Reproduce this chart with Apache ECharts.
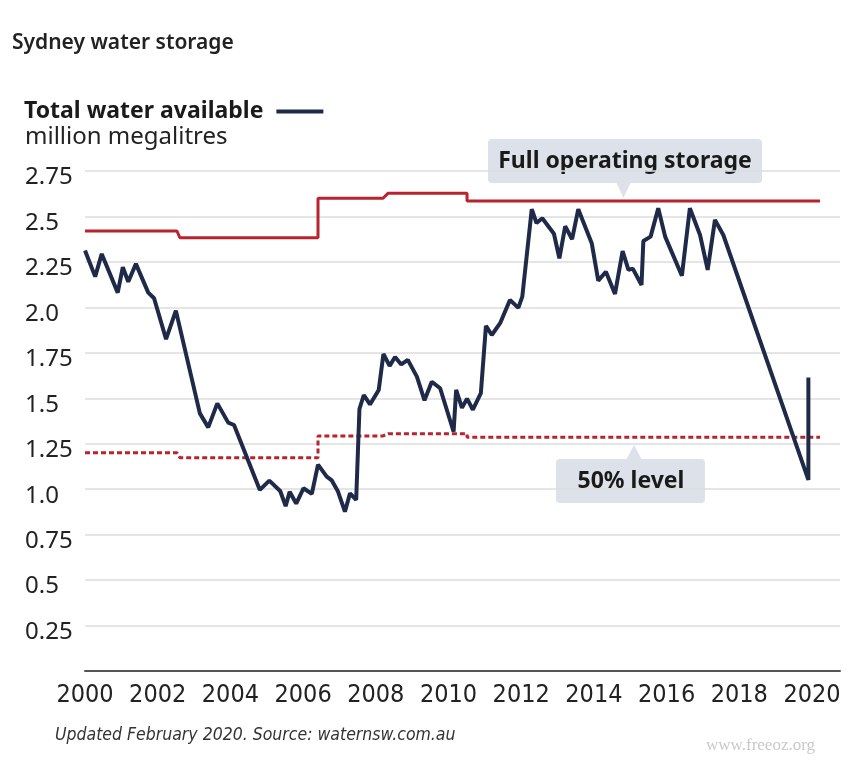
<!DOCTYPE html>
<html>
<head>
<meta charset="utf-8">
<style>
html,body{margin:0;padding:0;background:#fff;}
#chart{width:859px;height:770px;}
</style>
<script src="https://cdn.jsdelivr.net/npm/echarts@6/dist/echarts.min.js"></script>
</head>
<body>
<div id="chart"></div>
<script>
// Total water available (million ML): [year, value]
const waterYears = [2000.00,2000.28,2000.46,2000.90,2001.04,2001.19,2001.40,2001.74,2001.90,2002.23,2002.50,2003.16,2003.39,2003.64,2003.94,2004.10,2004.81,2005.07,2005.37,2005.52,2005.63,2005.81,2006.01,2006.24,2006.41,2006.65,2006.79,2006.96,2007.15,2007.29,2007.46,2007.55,2007.67,2007.84,2008.08,2008.21,2008.38,2008.53,2008.70,2008.88,2009.13,2009.34,2009.54,2009.77,2010.14,2010.21,2010.37,2010.51,2010.67,2010.89,2011.03,2011.19,2011.42,2011.69,2011.92,2012.03,2012.29,2012.42,2012.58,2012.90,2013.05,2013.21,2013.40,2013.57,2013.94,2014.12,2014.33,2014.58,2014.79,2014.95,2015.07,2015.31,2015.36,2015.56,2015.77,2015.96,2016.42,2016.64,2016.92,2017.13,2017.33,2017.56,2019.90,2019.90];
const waterValues = [2.313,2.169,2.294,2.081,2.221,2.141,2.239,2.081,2.050,1.825,1.982,1.417,1.340,1.472,1.366,1.353,0.996,1.047,0.990,0.907,0.986,0.921,1.005,0.974,1.135,1.069,1.048,0.987,0.876,0.977,0.941,1.441,1.518,1.466,1.546,1.744,1.678,1.727,1.686,1.711,1.619,1.489,1.591,1.555,1.316,1.546,1.447,1.498,1.437,1.528,1.898,1.848,1.913,2.041,1.997,2.059,2.540,2.464,2.490,2.405,2.270,2.446,2.375,2.540,2.353,2.147,2.196,2.074,2.309,2.206,2.213,2.123,2.365,2.389,2.545,2.389,2.174,2.545,2.398,2.206,2.481,2.398,1.051,1.614];

// Full operating storage (step line)
const fullYears = [2000.0,2002.53,2002.61,2006.41,2006.41,2008.20,2008.34,2010.51,2010.51,2020.22];
const fullValues = [2.42,2.42,2.383,2.383,2.60,2.60,2.628,2.628,2.585,2.585];

// 50% level (step line)
const halfYears = [2000.0,2002.53,2002.61,2006.41,2006.41,2008.20,2008.34,2010.51,2010.51,2020.22];
const halfValues = [1.20,1.20,1.173,1.173,1.293,1.293,1.305,1.305,1.285,1.285];

const xTicks = [2000,2002,2004,2006,2008,2010,2012,2014,2016,2018,2020];

const pairs = (xs, ys) => xs.map((x, i) => [x, ys[i]]);

const chart = echarts.init(document.getElementById('chart'));
const redC = '#b8232f';
const navy = '#1f2a48';
const boxC = '#dde2ea';
const boldFont = 'Noto Sans';
const narrow = 'DejaVu Sans Condensed, DejaVu Sans, sans-serif';

chart.setOption({
  backgroundColor: '#ffffff',
  animation: false,
  title: [
    { text: 'Sydney water storage', left: 7, top: 28,
      textStyle: { fontFamily: 'Noto Sans', fontWeight: 600, fontSize: 21, color: '#222' } },
    { text: 'million megalitres', left: 20, top: 120,
      textStyle: { fontFamily: 'Noto Sans', fontWeight: 'normal', fontSize: 24, color: '#222' } },
    { text: 'Updated February 2020. Source: waternsw.com.au', left: 50, top: 721,
      textStyle: { fontFamily: narrow, fontStyle: 'italic', fontWeight: 'normal', fontSize: 17.5, color: '#333' } },
    { text: 'www.freeoz.org', left: 701, top: 732,
      textStyle: { fontFamily: 'Liberation Serif', fontWeight: 'normal', fontSize: 17, color: '#c9c9c9' } }
  ],
  legend: {
    left: 19, top: 95,
    align: 'right',
    itemWidth: 47, itemHeight: 4,
    selectedMode: false,
    data: [{ name: 'Total water available', icon: 'rect' }],
    textStyle: { fontFamily: boldFont, fontWeight: 'bold', fontSize: 23, color: '#1a1a1a', padding: [0, 8, 0, 0] }
  },
  grid: { left: 85, right: 19, top: 171, bottom: 99 },
  xAxis: {
    type: 'value', min: 2000, max: 2020.77, interval: 2,
    axisLine: { show: true, lineStyle: { color: '#555', width: 2 } },
    axisTick: { show: false },
    splitLine: { show: false },
    axisLabel: {
      margin: 12,
      showMaxLabel: false,
      fontFamily: narrow,
      fontSize: 25, color: '#222',
      formatter: v => (xTicks.indexOf(v) < 0 ? '' : String(v))
    }
  },
  yAxis: {
    type: 'value', min: 0, max: 2.75, interval: 0.25,
    axisLine: { show: false },
    axisTick: { show: false },
    splitLine: { show: true, lineStyle: { color: '#dcdcdc', width: 1.5 } },
    axisLabel: {
      align: 'left', margin: 60,
      verticalAlign: 'top', lineHeight: 13,
      fontFamily: 'Noto Sans', fontSize: 24, color: '#222',
      formatter: v => {
        if (v === 0) return '';
        let s = v.toFixed(2);
        if (s.endsWith('0')) s = s.slice(0, -1);
        return s;
      }
    }
  },
  series: [
    {
      name: 'Full operating storage', type: 'line', symbol: 'none',
      data: pairs(fullYears, fullValues),
      lineStyle: { color: redC, width: 3 }, itemStyle: { color: redC }, z: 2
    },
    {
      name: '50% level', type: 'line', symbol: 'none',
      data: pairs(halfYears, halfValues),
      lineStyle: { color: redC, width: 3, type: [5, 3] }, itemStyle: { color: redC }, z: 2
    },
    {
      name: 'Total water available', type: 'line', symbol: 'none',
      data: pairs(waterYears, waterValues),
      lineStyle: { color: navy, width: 4 }, itemStyle: { color: navy }, z: 3
    }
  ],
  graphic: [
    { type: 'rect', shape: { x: 488, y: 139, width: 274, height: 44, r: 4 }, style: { fill: boxC } },
    { type: 'polygon', shape: { points: [[616, 182], [631, 182], [623.5, 198]] }, style: { fill: boxC } },
    { type: 'text', x: 625, y: 161, style: { text: 'Full operating storage', fontFamily: boldFont, fontWeight: 'bold', fontSize: 23, fill: '#1a1a1a', align: 'center', verticalAlign: 'middle' } },
    { type: 'rect', shape: { x: 556, y: 459, width: 149, height: 44, r: 4 }, style: { fill: boxC } },
    { type: 'polygon', shape: { points: [[626, 460], [642, 460], [634, 445]] }, style: { fill: boxC } },
    { type: 'text', x: 631, y: 481, style: { text: '50% level', fontFamily: boldFont, fontWeight: 'bold', fontSize: 23, fill: '#1a1a1a', align: 'center', verticalAlign: 'middle' } }
  ]
});
</script>
</body>
</html>
